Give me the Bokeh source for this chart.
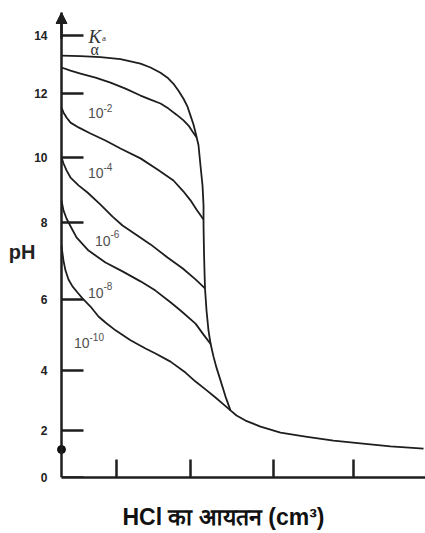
import numpy as np
from bokeh.plotting import figure
from bokeh.models import FixedTicker, Arrow, NormalHead, LinearAxis
from bokeh.core.properties import value
from bokeh.embed import file_html
from bokeh.resources import INLINE

# The original pH axis is ruled unevenly: label -> position along the axis
ph_tick_labels = [0, 2, 4, 6, 8, 10, 12, 14]
ph_tick_positions = [0.0, 1.49, 3.39, 5.64, 8.08, 10.14, 12.16, 14.0]
vol_ticks = [7.55, 17.72, 29.12, 40.11]

x_title = "HCl का आयतन (cm³)"
x_title_at = 22.25   # volume under which the axis title is centred
y_title = "pH"
y_title_at = 7.22    # pH beside which the axis title sits

# strong acid curve (alpha)
strong_vol = [0, 2.61, 5.36, 8.10, 10.85, 12.23, 13.60, 14.56, 15.38, 16.07, 16.76, 17.31,
              17.72, 18.13, 18.41, 18.82, 19.09, 19.37, 19.51, 19.51, 19.57, 19.64, 19.71,
              19.92, 20.19, 20.47, 20.88, 21.29, 21.84, 22.53, 23.21, 24.04, 25.27, 27.34,
              30.08, 33.52, 37.36, 41.07, 45.19, 49.73]
strong_ph = [13.31, 13.29, 13.26, 13.19, 13.03, 12.90, 12.72, 12.55, 12.34, 12.10, 11.84, 11.59,
             11.31, 11.03, 10.78, 10.38, 9.75, 9.14, 8.52, 7.92, 7.27, 6.75, 6.29,
             5.69, 5.13, 4.76, 4.39, 4.08, 3.67, 3.13, 2.67, 2.50, 2.33, 2.13,
             1.91, 1.74, 1.57, 1.45, 1.32, 1.23]

ka2_vol = [0, 1.24, 2.61, 4.67, 6.73, 8.79, 10.85, 12.23, 13.60, 14.70, 15.80, 16.76, 17.45,
           17.99, 18.54]
ka2_ph = [12.90, 12.79, 12.69, 12.55, 12.38, 12.17, 11.94, 11.81, 11.69, 11.53, 11.34, 11.16,
          11.00, 10.81, 10.63]

ka4_vol = [0, 0.27, 0.69, 1.24, 2.34, 3.98, 6.04, 8.10, 10.85, 13.19, 15.38, 16.76, 17.72,
           18.54, 19.51]
ka4_ph = [11.56, 11.41, 11.25, 11.09, 10.94, 10.75, 10.53, 10.28, 9.97, 9.63, 9.29, 8.95, 8.68,
          8.40, 8.09]

ka6_vol = [0, 0.27, 0.69, 1.24, 2.34, 3.57, 5.36, 7.01, 8.38, 10.16, 12.23, 14.56, 16.62,
           18.41, 19.71]
ka6_ph = [10.0, 9.82, 9.60, 9.38, 9.14, 8.92, 8.55, 8.18, 7.92, 7.69, 7.43, 7.09, 6.81,
          6.52, 6.29]

ka8_vol = [0, 0.27, 0.69, 1.24, 2.06, 3.71, 6.04, 8.38, 10.85, 12.91, 14.97, 16.35, 18.41,
           19.51, 20.54]
ka8_ph = [8.68, 8.37, 8.12, 7.90, 7.61, 7.27, 6.96, 6.73, 6.47, 6.23, 5.92, 5.69, 5.32,
          5.01, 4.73]

ka10_vol = [0, 0.14, 0.27, 0.55, 0.96, 1.51, 2.20, 2.88, 3.98, 5.08, 6.04, 7.42, 9.48, 11.54,
            12.91, 14.97, 17.03, 18.41, 19.78, 21.15, 22.25, 23.21]
ka10_ph = [7.40, 7.19, 7.01, 6.75, 6.52, 6.34, 6.18, 6.03, 5.80, 5.52, 5.35, 5.13, 4.85, 4.62,
           4.48, 4.25, 3.93, 3.63, 3.37, 3.10, 2.87, 2.67]

start_dot_ph = [1.19]

# curve labels: "10" with exponent
lab_base_vol = [5.77, 5.77, 6.73, 5.77, 3.85]
lab_base_ph = [11.38, 9.51, 7.53, 6.18, 4.76]
lab_exp_ph = [11.56, 9.69, 7.69, 6.34, 4.93]
lab_exp = ["-2", "-4", "-6", "-8", "-10"]


def on_axis(ph):
    return np.interp(ph, ph_tick_labels, ph_tick_positions)


def no_outer_ticks(ax):
    ax.major_tick_out = 0
    ax.minor_tick_out = 0
    ax.minor_tick_in = 0
    ax.minor_tick_line_color = None


def text_only(ax):
    no_outer_ticks(ax)
    ax.major_tick_in = 0
    ax.axis_line_color = None
    ax.major_tick_line_color = None


ink = "#1e1e1e"
y_top = 14.73
p = figure(width=425, height=533, x_range=(-0.824, 50), y_range=(0, y_top),
           output_backend="svg", toolbar_location=None,
           min_border_left=55, min_border_right=0, min_border_top=12, min_border_bottom=56)
p.grid.visible = False
p.outline_line_color = None
p.background_fill_color = "white"
p.border_fill_color = "white"

# axis line + inward ticks drawn at volume 0
ya = p.yaxis[0]
ya.fixed_location = 0
ya.bounds = (0, y_top)
ya.ticker = FixedTicker(ticks=ph_tick_positions)
no_outer_ticks(ya)
ya.major_tick_in = 22
ya.axis_line_width = 2.5
ya.axis_line_color = ink
ya.major_tick_line_width = 2.5
ya.major_tick_line_color = ink
ya.major_label_text_color = None
ya.major_label_text_font_size = "1px"
ya.major_label_standoff = 0

# tick labels of the pH axis
yl = LinearAxis(ticker=FixedTicker(ticks=ph_tick_positions))
yl.major_label_overrides = {float(pos): str(l) for pos, l in zip(ph_tick_positions, ph_tick_labels)}
text_only(yl)
yl.major_label_text_font = "Liberation Sans"
yl.major_label_text_font_style = "bold"
yl.major_label_text_font_size = "12px"
yl.major_label_text_color = "#222222"
yl.major_label_standoff = 8
p.add_layout(yl, "left")

# title of the pH axis
y_title_pos = float(on_axis(y_title_at))
yt = LinearAxis(ticker=FixedTicker(ticks=[y_title_pos]),
                major_label_overrides={y_title_pos: y_title})
text_only(yt)
yt.major_label_text_font = "Liberation Sans"
yt.major_label_text_font_style = "bold"
yt.major_label_text_font_size = "20px"
yt.major_label_text_color = "#222222"
yt.major_label_standoff = -4
p.add_layout(yt, "left")

xa = p.xaxis[0]
xa.bounds = (0, 50)
xa.ticker = FixedTicker(ticks=vol_ticks)
no_outer_ticks(xa)
xa.major_tick_in = 18
xa.axis_line_width = 2.5
xa.axis_line_color = ink
xa.major_tick_line_width = 2.5
xa.major_tick_line_color = ink
xa.major_label_text_color = None
xa.major_label_text_font_size = "1px"
xa.major_label_standoff = 0

# title of the volume axis
xt = LinearAxis(ticker=FixedTicker(ticks=[x_title_at]),
                major_label_overrides={x_title_at: x_title})
text_only(xt)
xt.major_label_text_font = "Liberation Sans"
xt.major_label_text_font_style = "bold"
xt.major_label_text_font_size = "23px"
xt.major_label_text_color = "#111111"
xt.major_label_standoff = 26
p.add_layout(xt, "below")

for v, ph in [(strong_vol, strong_ph), (ka2_vol, ka2_ph), (ka4_vol, ka4_ph),
              (ka6_vol, ka6_ph), (ka8_vol, ka8_ph), (ka10_vol, ka10_ph)]:
    p.line(v, on_axis(ph), line_color=ink, line_width=1.8, line_join="round")

p.scatter([0], on_axis(start_dot_ph), size=8, color="#111111")

p.add_layout(Arrow(end=NormalHead(size=11, fill_color=ink, line_color=ink, line_width=1),
                   x_start=0, y_start=13.9, x_end=0, y_end=y_top,
                   line_color=ink, line_width=2.5))

gray = "#505050"
p.text(lab_base_vol, on_axis(lab_base_ph), text=["10"] * 5, text_align="right",
       text_baseline="middle", text_font=value("Liberation Sans"),
       text_font_size="14px", text_color=gray)
p.text(lab_base_vol, on_axis(lab_exp_ph), text=lab_exp, text_align="left",
       text_baseline="middle", text_font=value("Liberation Sans"),
       text_font_size="10px", text_color=gray)

p.text([3.71], on_axis([13.97]), text=["K"], text_align="left", text_baseline="alphabetic",
       text_font=value("Liberation Serif"), text_font_style="italic",
       text_font_size="19px", text_color="#333333")
p.text([5.55], on_axis([13.93]), text=["a"], text_align="left", text_baseline="alphabetic",
       text_font=value("Liberation Serif"), text_font_size="9px", text_color="#333333")
p.text([3.98], on_axis([13.52]), text=["α"], text_align="left", text_baseline="alphabetic",
       text_font=value("Liberation Serif"), text_font_size="16px", text_color="#333333")

open("out.html", "w").write(file_html(p, INLINE))
